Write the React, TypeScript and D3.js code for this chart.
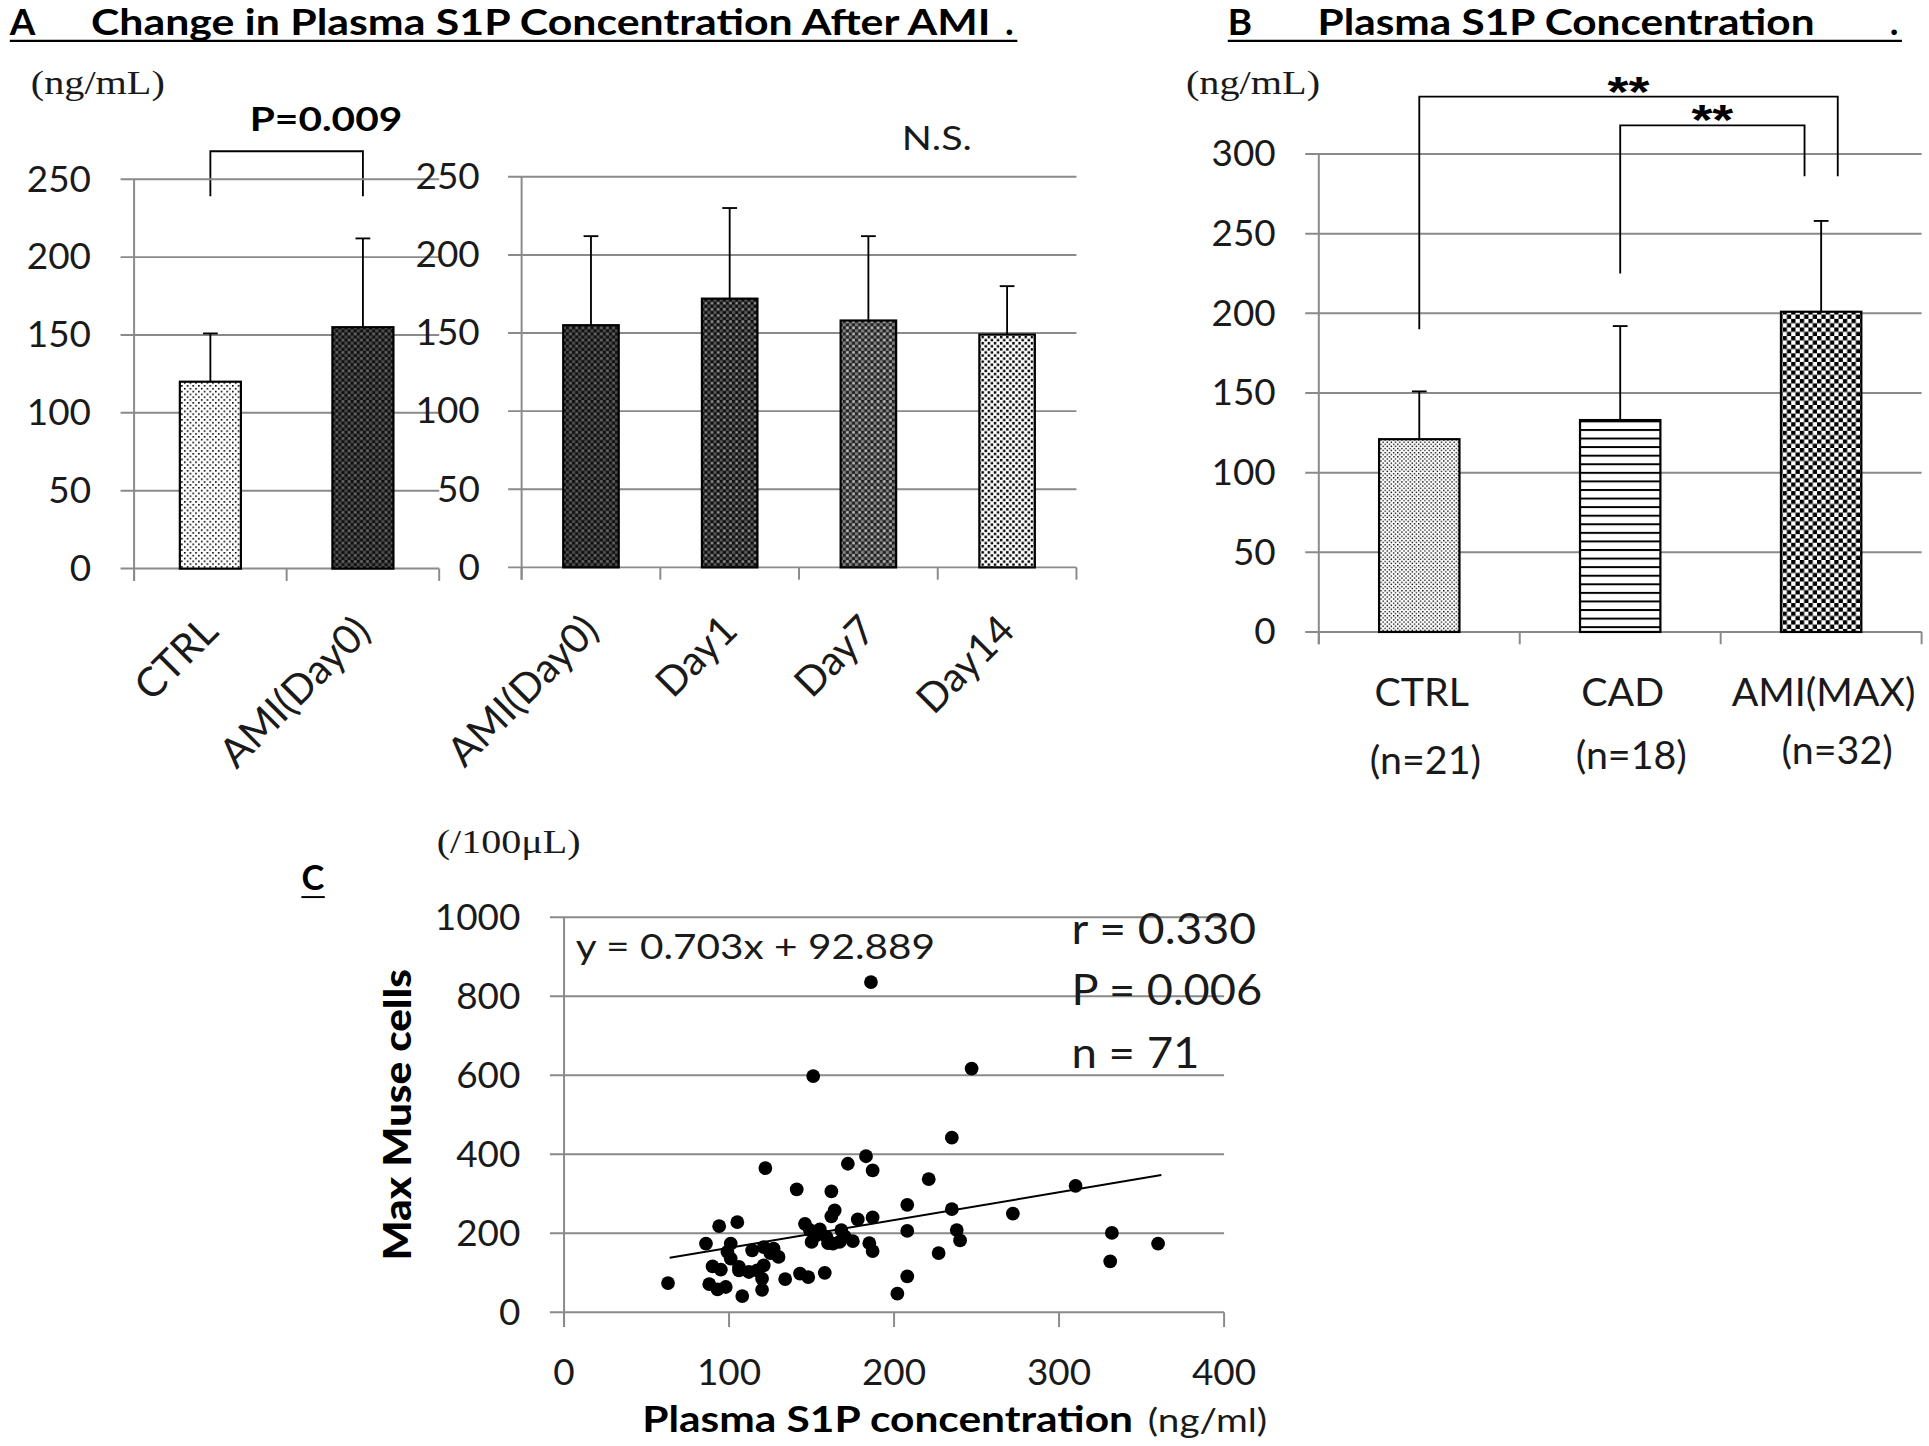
import React from 'react'
import * as d3 from 'd3'

// panel A, left: control vs AMI day 0
const aCats = ['CTRL', 'AMI(Day0)']
const aMeans = [120, 155]
const aUpper = [151, 212]
const aBracket = { top: 268, leg: 239 }

// panel A, right: time course after AMI
const courseCats = ['AMI(Day0)', 'Day1', 'Day7', 'Day14']
const courseMeans = [155, 172, 158, 149]
const courseUpper = [212, 230, 212, 180]

// panel B
const bCats = ['CTRL', 'CAD', 'AMI(MAX)']
const bCounts = ['(n=21)', '(n=18)', '(n=32)']
const bMeans = [121, 133, 201]
const bUpper = [151, 192, 258]
const bOuter = { top: 336, left: 190, right: 286 }
const bInner = { top: 318, left: 225, right: 286 }

const yTicksA = [0, 50, 100, 150, 200, 250]
const yTicksB = [0, 50, 100, 150, 200, 250, 300]
const yTicksC = [0, 200, 400, 600, 800, 1000]
const xTicksC = [0, 100, 200, 300, 400]

// panel C: plasma S1P (ng/ml) vs max Muse cells (/100uL)
const s1p = [
  63, 86, 94, 105, 122, 141, 162, 172, 183, 187,
  221, 235, 208, 235, 208, 238, 240, 227, 208, 202,
  178, 187, 185, 187, 164, 162, 146, 149, 153, 150,
  159, 160, 168, 167, 163, 158, 148, 143, 134, 108,
  120, 120, 121, 88, 93, 98, 90, 95, 101, 99,
  101, 106, 112, 117, 114, 121, 127, 130, 310, 272,
  332, 331, 360, 247, 186, 151, 170, 106, 125, 155, 175,
]
const muse = [
  74, 174, 218, 228, 365, 311, 306, 376, 395, 359,
  337, 442, 272, 261, 206, 208, 182, 150, 91, 47,
  235, 240, 175, 155, 258, 243, 224, 208, 195, 178,
  191, 175, 208, 178, 174, 100, 89, 98, 84, 41,
  57, 85, 119, 71, 58, 64, 116, 108, 174, 153,
  136, 106, 102, 106, 157, 165, 161, 140, 320, 250,
  201, 129, 174, 617, 836, 598, 192, 115, 150, 210, 180,
]
const fitSlope = 0.703
const fitIntercept = 92.889
const fitRange = [64, 362]

const SANS = 'Lato, "Open Sans", sans-serif'
const SERIF = '"Liberation Serif", "DejaVu Serif", serif'
const GRID = '#8a8a8a'
const TXT = '#1a1a1a'

const Patterns = () => (
  <defs>
    <pattern id="dotsSparse" width={4.6} height={4.6} patternUnits="userSpaceOnUse">
      <rect width={4.6} height={4.6} fill="#fff" />
      <rect x={0} y={0} width={1.3} height={1.3} fill="#000" />
      <rect x={2.3} y={2.3} width={1.3} height={1.3} fill="#000" />
    </pattern>
    <pattern id="dotsDense" width={3.4} height={3.4} patternUnits="userSpaceOnUse">
      <rect width={3.4} height={3.4} fill="#fff" />
      <rect x={0} y={0} width={1.1} height={1.1} fill="#000" />
      <rect x={1.7} y={1.7} width={1.1} height={1.1} fill="#000" />
    </pattern>
    <pattern id="hlines" width={10} height={6.97} patternUnits="userSpaceOnUse">
      <rect width={10} height={6.97} fill="#fff" />
      <rect x={0} y={0} width={10} height={1.6} fill="#000" />
    </pattern>
    <pattern id="checkBW" width={7} height={7} patternUnits="userSpaceOnUse">
      <rect width={7} height={7} fill="#fff" />
      <rect x={0} y={0} width={3.5} height={3.5} fill="#000" />
      <rect x={3.5} y={3.5} width={3.5} height={3.5} fill="#000" />
    </pattern>
    <pattern id="checkDark1" width={5} height={5} patternUnits="userSpaceOnUse">
      <rect width={5} height={5} fill="#4a4a4a" />
      <rect x={0} y={0} width={2.5} height={2.5} fill="#111" />
      <rect x={2.5} y={2.5} width={2.5} height={2.5} fill="#111" />
      <rect x={3} y={0.5} width={1.5} height={1.5} fill="#6e6e6e" />
    </pattern>
    <pattern id="checkDark2" width={5} height={5} patternUnits="userSpaceOnUse">
      <rect width={5} height={5} fill="#555" />
      <rect x={0} y={0} width={2.5} height={2.5} fill="#111" />
      <rect x={2.5} y={2.5} width={2.5} height={2.5} fill="#111" />
      <rect x={3} y={0.5} width={1.6} height={1.6} fill="#999" />
    </pattern>
    <pattern id="checkMid" width={5} height={5} patternUnits="userSpaceOnUse">
      <rect width={5} height={5} fill="#808080" />
      <rect x={0} y={0} width={2.5} height={2.5} fill="#222" />
      <rect x={2.5} y={2.5} width={2.5} height={2.5} fill="#222" />
      <rect x={3} y={0.5} width={1.6} height={1.6} fill="#c4c4c4" />
    </pattern>
    <pattern id="checkLight" width={5} height={5} patternUnits="userSpaceOnUse">
      <rect width={5} height={5} fill="#fff" />
      <rect x={0.3} y={0.3} width={2} height={2} fill="#000" />
      <rect x={2.8} y={2.8} width={2} height={2} fill="#000" />
    </pattern>
  </defs>
)

type BarProps = {
  cats: string[]
  means: number[]
  upper: number[]
  fills: string[]
  x: d3.ScaleBand<string>
  y: d3.ScaleLinear<number, number>
  ticks: number[]
  labelRight: number
  capW?: number
}

// gridlines, axes and bars of one Excel-style column chart
const BarChart = ({ cats, means, upper, fills, x, y, ticks, labelRight, capW = 12 }: BarProps) => {
  const [x0, x1] = x.range()
  const y0 = y(0)
  const bw = x.bandwidth() * 0.4
  const edges = [...cats.map((c) => x(c) as number), x1]
  return (
    <g>
      {ticks.map((t) => (
        <g key={t}>
          <line x1={x0 - 11} x2={x1} y1={y(t)} y2={y(t)} stroke={GRID} strokeWidth={1.6} />
          <text x={labelRight} y={y(t) + 10} textAnchor="end" fontFamily={SANS} fontSize={30} fill={TXT}>
            {t}
          </text>
        </g>
      ))}
      <line x1={x0} x2={x0} y1={y(ticks[ticks.length - 1])} y2={y0 + 10} stroke={GRID} strokeWidth={1.6} />
      {edges.map((e, i) => (
        <line key={i} x1={e} x2={e} y1={y0} y2={y0 + 10} stroke={GRID} strokeWidth={1.6} />
      ))}
      {cats.map((c, i) => {
        const cx = (x(c) as number) + x.bandwidth() / 2
        return (
          <g key={c + i}>
            <line x1={cx} x2={cx} y1={y(means[i])} y2={y(upper[i])} stroke="#000" strokeWidth={1.5} />
            <line x1={cx - capW / 2} x2={cx + capW / 2} y1={y(upper[i])} y2={y(upper[i])} stroke="#000" strokeWidth={1.5} />
            <rect
              x={cx - bw / 2}
              y={y(means[i])}
              width={bw}
              height={y0 - y(means[i])}
              fill={`url(#${fills[i]})`}
              stroke="#000"
              strokeWidth={1.8}
            />
          </g>
        )
      })}
    </g>
  )
}

const RotLabels = ({ cats, x, y0 }: { cats: string[]; x: d3.ScaleBand<string>; y0: number }) => (
  <g>
    {cats.map((c, i) => {
      const cx = (x(c) as number) + x.bandwidth() / 2
      return (
        <text
          key={c + i}
          transform={`translate(${cx + 8},${y0 + 53}) rotate(-45)`}
          textAnchor="end"
          fontFamily={SANS}
          fontSize={33}
          fill={TXT}
        >
          {c}
        </text>
      )
    })}
  </g>
)

const App = () => {
  // panel A scales
  const xA = d3.scaleBand().domain(aCats).range([109, 357])
  const yA = d3.scaleLinear().domain([0, 250]).range([462, 145.5])
  const xCourse = d3.scaleBand().domain(courseCats).range([424, 875])
  const yCourse = d3.scaleLinear().domain([0, 250]).range([461, 143.5])

  // panel B scales
  const xB = d3.scaleBand().domain(bCats).range([1072, 1562])
  const yB = d3.scaleLinear().domain([0, 300]).range([513.5, 125])

  // panel C scales
  const xC = d3.scaleLinear().domain([0, 400]).range([458.5, 995])
  const yC = d3.scaleLinear().domain([0, 1000]).range([1066.5, 745.4])

  const ctr = (s: d3.ScaleBand<string>, c: string) => (s(c) as number) + s.bandwidth() / 2

  const aL = ctr(xA, aCats[0])
  const aR = ctr(xA, aCats[1])
  const bCtrl = ctr(xB, bCats[0])
  const bCad = ctr(xB, bCats[1])
  const bAmi = ctr(xB, bCats[2])

  const fit = d3
    .line<number>()
    .x((d) => xC(d))
    .y((d) => yC(fitSlope * d + fitIntercept))

  return (
    <div style={{ position: 'absolute', left: 0, top: 0, background: '#fff' }}>
      <svg width={1929} height={1446} viewBox="0 0 1568 1175" style={{ display: 'block' }}>
        <Patterns />
        <rect width={1568} height={1175} fill="#fff" />

        {/* ---- panel A ---- */}
        <text x={8} y={28.5} fontFamily={SANS} fontWeight="bold" fontSize={30} fill="#000">A</text>
        <text x={74} y={28.5} fontFamily={SANS} fontWeight="bold" fontSize={30} fill="#000" textLength={731} lengthAdjust="spacingAndGlyphs">
          Change in Plasma S1P Concentration After AMI
        </text>
        <text x={817} y={28.5} fontFamily={SANS} fontWeight="bold" fontSize={30} fill="#000">.</text>
        <line x1={8} x2={827} y1={33} y2={33} stroke="#000" strokeWidth={1.8} />

        <text x={25} y={76} fontFamily={SERIF} fontSize={28} fill={TXT} textLength={109} lengthAdjust="spacingAndGlyphs">(ng/mL)</text>
        <text x={203} y={106} fontFamily={SANS} fontWeight="bold" fontSize={27} fill="#000" textLength={124} lengthAdjust="spacingAndGlyphs">P=0.009</text>
        <path
          d={`M${aL},${yA(aBracket.leg)}V${yA(aBracket.top)}H${aR}V${yA(aBracket.leg)}`}
          fill="none"
          stroke="#000"
          strokeWidth={1.5}
        />
        <text x={733} y={122} fontFamily={SANS} fontSize={27} fill={TXT} textLength={57} lengthAdjust="spacingAndGlyphs">N.S.</text>

        <BarChart
          cats={aCats}
          means={aMeans}
          upper={aUpper}
          fills={['dotsSparse', 'checkDark1']}
          x={xA}
          y={yA}
          ticks={yTicksA}
          labelRight={74}
        />
        <BarChart
          cats={courseCats}
          means={courseMeans}
          upper={courseUpper}
          fills={['checkDark1', 'checkDark2', 'checkMid', 'checkLight']}
          x={xCourse}
          y={yCourse}
          ticks={yTicksA}
          labelRight={390}
        />
        <RotLabels cats={aCats} x={xA} y0={462} />
        <RotLabels cats={courseCats} x={xCourse} y0={461} />

        {/* ---- panel B ---- */}
        <text x={998} y={28.5} fontFamily={SANS} fontWeight="bold" fontSize={30} fill="#000">B</text>
        <text x={1071} y={28.5} fontFamily={SANS} fontWeight="bold" fontSize={30} fill="#000" textLength={404} lengthAdjust="spacingAndGlyphs">
          Plasma S1P Concentration
        </text>
        <text x={1536} y={28.5} fontFamily={SANS} fontWeight="bold" fontSize={30} fill="#000">.</text>
        <line x1={998} x2={1546} y1={33} y2={33} stroke="#000" strokeWidth={1.8} />

        <text x={964} y={76} fontFamily={SERIF} fontSize={28} fill={TXT} textLength={109} lengthAdjust="spacingAndGlyphs">(ng/mL)</text>

        <BarChart
          cats={bCats}
          means={bMeans}
          upper={bUpper}
          fills={['dotsDense', 'hlines', 'checkBW']}
          x={xB}
          y={yB}
          ticks={yTicksB}
          labelRight={1037}
        />
        <path
          d={`M${bCtrl},${yB(bOuter.left)}V${yB(bOuter.top)}H${bAmi + 13.5}V${yB(bOuter.right)}`}
          fill="none"
          stroke="#000"
          strokeWidth={1.5}
        />
        <path
          d={`M${bCad},${yB(bInner.left)}V${yB(bInner.top)}H${bAmi - 13.5}V${yB(bInner.right)}`}
          fill="none"
          stroke="#000"
          strokeWidth={1.5}
        />
        <text x={(bCtrl + bAmi + 13.5) / 2} y={86} textAnchor="middle" fontFamily='"Liberation Sans", Arial, sans-serif' fontWeight="bold" fontSize={34} fill="#000" textLength={34} lengthAdjust="spacingAndGlyphs">**</text>
        <text x={(bCad + bAmi - 13.5) / 2} y={109} textAnchor="middle" fontFamily='"Liberation Sans", Arial, sans-serif' fontWeight="bold" fontSize={34} fill="#000" textLength={34} lengthAdjust="spacingAndGlyphs">**</text>

        {bCats.map((c, i) => (
          <g key={c}>
            <text x={ctr(xB, c) + 2} y={574} textAnchor="middle" fontFamily={SANS} fontSize={32} fill={TXT}>
              {c}
            </text>
            <text x={ctr(xB, c) + 5 + i * 4} y={629 - i * 4} textAnchor="middle" fontFamily={SANS} fontSize={32} fill={TXT}>
              {bCounts[i]}
            </text>
          </g>
        ))}

        {/* ---- panel C ---- */}
        <text x={355} y={693} fontFamily={SERIF} fontSize={27} fill={TXT} textLength={117} lengthAdjust="spacingAndGlyphs">(/100μL)</text>
        <text x={245} y={723} fontFamily={SANS} fontWeight="bold" fontSize={28} fill="#000">C</text>
        <line x1={245} x2={264} y1={729} y2={729} stroke="#000" strokeWidth={1.6} />

        {yTicksC.map((t) => (
          <g key={t}>
            <line x1={447} x2={xC(400)} y1={yC(t)} y2={yC(t)} stroke={GRID} strokeWidth={1.6} />
            <text x={423} y={yC(t) + 10} textAnchor="end" fontFamily={SANS} fontSize={30} fill={TXT}>
              {t}
            </text>
          </g>
        ))}
        <line x1={xC(0)} x2={xC(0)} y1={yC(1000)} y2={yC(0) + 12} stroke={GRID} strokeWidth={1.6} />
        {xTicksC.map((t) => (
          <g key={t}>
            <line x1={xC(t)} x2={xC(t)} y1={yC(0)} y2={yC(0) + 12} stroke={GRID} strokeWidth={1.6} />
            <text x={xC(t)} y={1126} textAnchor="middle" fontFamily={SANS} fontSize={30} fill={TXT}>
              {t}
            </text>
          </g>
        ))}

        <path d={fit(fitRange) as string} fill="none" stroke="#000" strokeWidth={1.6} />
        {s1p.map((v, i) => (
          <circle key={i} cx={xC(v)} cy={yC(muse[i])} r={5.6} fill="#000" />
        ))}

        <text x={468} y={779} fontFamily={SANS} fontSize={28} fill={TXT} textLength={292} lengthAdjust="spacingAndGlyphs">
          y = 0.703x + 92.889
        </text>
        <text x={871} y={767} fontFamily={SANS} fontSize={34} fill={TXT} textLength={150} lengthAdjust="spacingAndGlyphs">r = 0.330</text>
        <text x={871} y={817} fontFamily={SANS} fontSize={34} fill={TXT} textLength={155} lengthAdjust="spacingAndGlyphs">P = 0.006</text>
        <text x={871} y={868} fontFamily={SANS} fontSize={34} fill={TXT} textLength={104} lengthAdjust="spacingAndGlyphs">n = 71</text>

        <text
          transform={`translate(334,906) rotate(-90)`}
          textAnchor="middle"
          fontFamily={SANS}
          fontWeight="900"
          fontSize={31}
          fill="#000"
          textLength={237}
          lengthAdjust="spacingAndGlyphs"
        >
          Max Muse cells
        </text>
        <text x={522} y={1164} fontFamily={SANS} fontWeight="bold" fontSize={30} fill="#000" textLength={399} lengthAdjust="spacingAndGlyphs">
          Plasma S1P concentration
        </text>
        <text x={933} y={1164} fontFamily={SANS} fontSize={27} fill={TXT} textLength={97} lengthAdjust="spacingAndGlyphs">(ng/ml)</text>
      </svg>
    </div>
  )
}

export default App
